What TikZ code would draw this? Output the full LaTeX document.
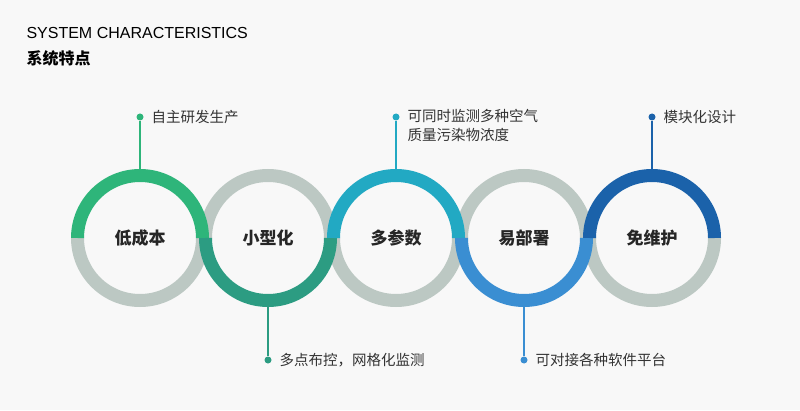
\documentclass[tikz,border=0pt]{standalone}
\usepackage{fontspec}
\setmainfont{Noto Sans CJK SC}
\newfontfamily\latinf{Liberation Sans}
\begin{document}
\begin{tikzpicture}[x=1pt,y=1pt,
  ringarc/.style={line width=13pt},
  lbl/.style={font=\fontsize{17}{20}\selectfont\bfseries, text=black!85},
  call/.style={font=\fontsize{14.5}{19}\selectfont, text=black!80, anchor=west, align=left},
  dotc/.style={circle, inner sep=0pt, minimum size=7pt}]
\definecolor{bg}{HTML}{F8F8F8}
\definecolor{gr}{HTML}{BCC8C3}
\definecolor{c1}{HTML}{2EB57A}
\definecolor{c2}{HTML}{2C9C82}
\definecolor{c3}{HTML}{22A9C3}
\definecolor{c4}{HTML}{3A8ED2}
\definecolor{c5}{HTML}{1B62AA}
\fill[bg] (0,0) rectangle (800,410);
\useasboundingbox (0,0) rectangle (800,410);
\node[anchor=west, font=\latinf\fontsize{16}{18}\selectfont] (t1) at (23,377) {SYSTEM CHARACTERISTICS};
\node[anchor=west, font=\fontsize{16}{18}\selectfont\bfseries] (t2) at (23,352) {系统特点};
% centers
\foreach \i/\x in {1/140,2/268,3/396,4/524,5/652}{\coordinate (r\i) at (\x,172);}
% grey halves
\draw[ringarc, gr] ([xshift=62.5pt]r1) arc (0:-180:62.5);
\draw[ringarc, gr] ([xshift=62.5pt]r2) arc (0:180:62.5);
\draw[ringarc, gr] ([xshift=62.5pt]r3) arc (0:-180:62.5);
\draw[ringarc, gr] ([xshift=62.5pt]r4) arc (0:180:62.5);
\draw[ringarc, gr] ([xshift=62.5pt]r5) arc (0:-180:62.5);
% colored halves
\draw[ringarc, c1] ([xshift=62.5pt]r1) arc (0:180:62.5);
\draw[ringarc, c2] ([xshift=62.5pt]r2) arc (0:-180:62.5);
\draw[ringarc, c3] ([xshift=62.5pt]r3) arc (0:180:62.5);
\draw[ringarc, c4] ([xshift=62.5pt]r4) arc (0:-180:62.5);
\draw[ringarc, c5] ([xshift=62.5pt]r5) arc (0:180:62.5);
\node[lbl] (n1) at (r1) {低成本};
\node[lbl] (n2) at (r2) {小型化};
\node[lbl] (n3) at (r3) {多参数};
\node[lbl] (n4) at (r4) {易部署};
\node[lbl] (n5) at (r5) {免维护};
% callouts
\node[dotc, fill=c1] (d1) at (140,293) {};
\node[dotc, fill=c2] (d2) at (268,50) {};
\node[dotc, fill=c3] (d3) at (396,293) {};
\node[dotc, fill=c4] (d4) at (524,50) {};
\node[dotc, fill=c5] (d5) at (652,293) {};
\coordinate (e1) at (140,241); \coordinate (e2) at (268,103);
\coordinate (e3) at (396,241); \coordinate (e4) at (524,103);
\coordinate (e5) at (652,241);
\draw[c1, line width=1.3pt] (d1) -- (e1);
\draw[c2, line width=1.3pt] (d2) -- (e2);
\draw[c3, line width=1.3pt] (d3) -- (e3);
\draw[c4, line width=1.3pt] (d4) -- (e4);
\draw[c5, line width=1.3pt] (d5) -- (e5);
\node[call] (l1) at (148,293) {自主研发生产};
\node[call] (l2) at (276,50) {多点布控，网格化监测};
\node[call, anchor=north west] (l3) at (404,304) {可同时监测多种空气\\质量污染物浓度};
\node[call] (l4) at (532,50) {可对接各种软件平台};
\node[call] (l5) at (660,293) {模块化设计};
\end{tikzpicture}
\end{document}
